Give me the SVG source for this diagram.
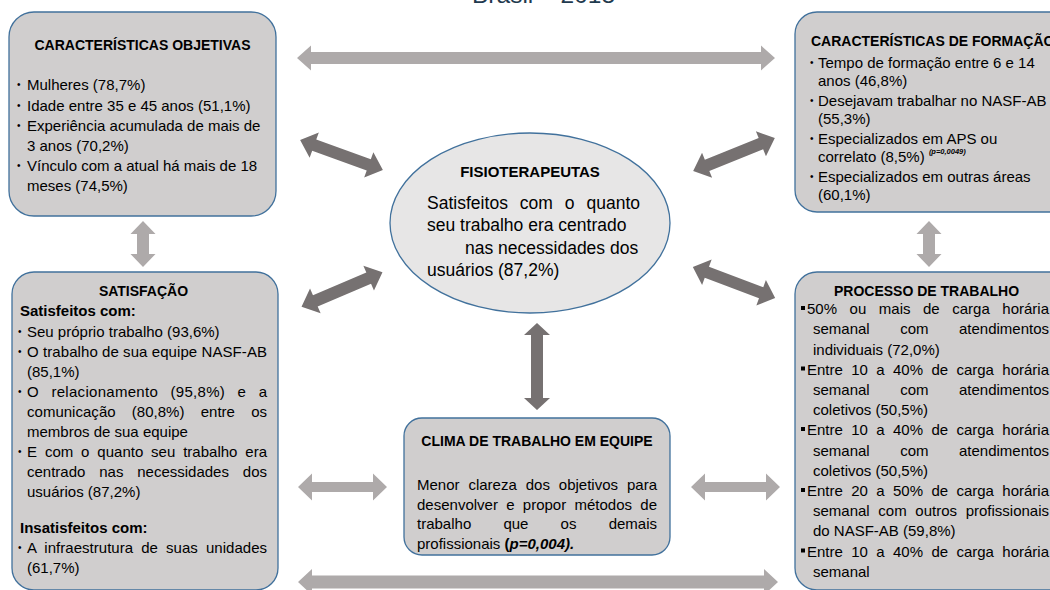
<svg xmlns="http://www.w3.org/2000/svg" xmlns:xlink="http://www.w3.org/1999/xlink" width="1050" height="590" viewBox="0 0 1050 590">
<style>
text{font-family:"Liberation Sans",Arial,sans-serif;fill:#000}
.box{fill:#d0cece;stroke:#41719c;stroke-width:1.3}
.ell{fill:#e7e6e6;stroke:#41719c;stroke-width:1.3}
.h{font-size:14px;font-weight:bold}
.hs{font-size:15px;font-weight:bold}
.t{font-size:15px}
.e{font-size:17.5px}
.bu{font-size:10px}
.dark{fill:#767171}
.light{fill:#aeaaaa}
.sq{fill:#000}
</style>
<defs>
<polygon id="dbl" points="-44,0 -29,-13.5 -29,-6 29,-6 29,-13.5 44,0 29,13.5 29,6 -29,6 -29,13.5"/>
</defs>
<rect width="1050" height="590" fill="#fff"/>
<text x="472" y="2.5" style="font-size:24.5px;fill:#1f3a4f">Brasil – 2018</text>

<g id="connectors">
<polygon class="light" points="297,58 311,45.5 311,52 761,52 761,45.5 775,58 761,70.5 761,64 311,64 311,70.5"/>
<polygon class="light" points="298,582 312,569 312,575.5 764,575.5 764,569 778,582 764,595 764,588.5 312,588.5 312,595"/>
<polygon class="light" points="298,487 312,473.5 312,482 373,482 373,473.5 387,487 373,500.5 373,492 312,492 312,500.5"/>
<polygon class="light" points="691,487 705,473.5 705,482 766,482 766,473.5 780,487 766,500.5 766,492 705,492 705,500.5"/>
<polygon class="light" points="143,221 130.5,234 137,234 137,254 130.5,254 143,267 155.5,254 149,254 149,234 155.5,234"/>
<polygon class="light" points="929,221 916.5,234 923,234 923,254 916.5,254 929,267 941.5,254 935,254 935,234 941.5,234"/>
<polygon class="dark" points="537,323 550,335 543,335 543,398 550,398 537,410 524,398 531,398 531,335 524,335"/>
<use xlink:href="#dbl" class="dark" transform="translate(341.5,155) rotate(19.9)"/>
<use xlink:href="#dbl" class="dark" transform="translate(342,289.5) rotate(-23.1)"/>
<use xlink:href="#dbl" class="dark" transform="translate(734,154.5) rotate(-21.9)"/>
<use xlink:href="#dbl" class="dark" transform="translate(734,282.5) rotate(20.7)"/>
</g>

<g id="caracteristicas-objetivas">
<rect class="box" x="9" y="12" width="267" height="204" rx="25"/>
<text class="h" x="142.5" y="50" text-anchor="middle">CARACTERÍSTICAS OBJETIVAS</text>
<text class="bu" x="17" y="88">•</text><text class="t" x="27" y="90">Mulheres (78,7%)</text>
<text class="bu" x="17" y="108.5">•</text><text class="t" x="27" y="110.5">Idade entre 35 e 45 anos (51,1%)</text>
<text class="bu" x="17" y="129">•</text><text class="t" x="27" y="131">Experiência acumulada de mais de</text>
<text class="t" x="27" y="151">3 anos (70,2%)</text>
<text class="bu" x="17" y="169">•</text><text class="t" x="27" y="171">Vínculo com a atual há mais de 18</text>
<text class="t" x="27" y="191">meses (74,5%)</text>
</g>

<g id="caracteristicas-formacao">
<rect class="box" x="795" y="12" width="300" height="200" rx="22"/>
<text class="h" x="811" y="46">CARACTERÍSTICAS DE FORMAÇÃO</text>
<text class="bu" x="810" y="66">•</text><text class="t" x="818" y="68">Tempo de formação entre 6 e 14</text>
<text class="t" x="818" y="85.5">anos (46,8%)</text>
<text class="bu" x="810" y="104">•</text><text class="t" x="818" y="106">Desejavam trabalhar no NASF-AB</text>
<text class="t" x="818" y="123.5">(55,3%)</text>
<text class="bu" x="810" y="142">•</text><text class="t" x="818" y="144">Especializados em APS ou</text>
<text class="t" x="818" y="161.5">correlato (8,5%) <tspan dy="-7.5" style="font-size:7.5px;font-weight:bold;font-style:italic">(p=0,0049)</tspan></text>
<text class="bu" x="810" y="180">•</text><text class="t" x="818" y="182">Especializados em outras áreas</text>
<text class="t" x="818" y="199.5">(60,1%)</text>
</g>

<g id="fisioterapeutas">
<ellipse class="ell" cx="530" cy="223" rx="140" ry="90"/>
<text class="hs" x="530" y="177" text-anchor="middle">FISIOTERAPEUTAS</text>
<text class="e" x="427" y="209" style="word-spacing:7px" textLength="213" lengthAdjust="spacing">Satisfeitos com o quanto</text>
<text class="e" x="427" y="231">seu trabalho era centrado</text>
<text class="e" x="465" y="253.5">nas necessidades dos</text>
<text class="e" x="427" y="276">usuários (87,2%)</text>
</g>

<g id="satisfacao">
<rect class="box" x="12" y="272" width="266" height="318" rx="22"/>
<text class="h" x="143.5" y="296" text-anchor="middle">SATISFAÇÃO</text>
<text class="hs" x="20" y="316">Satisfeitos com:</text>
<text class="bu" x="18" y="335">•</text><text class="t" x="27" y="337">Seu próprio trabalho (93,6%)</text>
<text class="bu" x="18" y="355">•</text><text class="t" x="27" y="357" textLength="240" lengthAdjust="spacing">O trabalho de sua equipe NASF-AB</text>
<text class="t" x="27" y="377">(85,1%)</text>
<text class="bu" x="18" y="395">•</text><text class="t" x="27" y="397" style="word-spacing:8px" textLength="240" lengthAdjust="spacing">O relacionamento (95,8%) e a</text>
<text class="t" x="27" y="417" style="word-spacing:12px" textLength="240" lengthAdjust="spacing">comunicação (80,8%) entre os</text>
<text class="t" x="27" y="437">membros de sua equipe</text>
<text class="bu" x="18" y="455">•</text><text class="t" x="27" y="457" style="word-spacing:3.7px" textLength="240" lengthAdjust="spacing">E com o quanto seu trabalho era</text>
<text class="t" x="27" y="477" style="word-spacing:9.7px" textLength="240" lengthAdjust="spacing">centrado nas necessidades dos</text>
<text class="t" x="27" y="497">usuários (87,2%)</text>
<text class="hs" x="20" y="533">Insatisfeitos com:</text>
<text class="bu" x="18" y="551">•</text><text class="t" x="27" y="553" style="word-spacing:3.9px" textLength="240" lengthAdjust="spacing">A infraestrutura de suas unidades</text>
<text class="t" x="27" y="573">(61,7%)</text>
</g>

<g id="processo-trabalho">
<rect class="box" x="795" y="272" width="300" height="318" rx="22"/>
<text class="h" x="926.5" y="296" text-anchor="middle">PROCESSO DE TRABALHO</text>
<rect class="sq" x="801" y="306" width="4" height="4"/>
<text class="t" x="807" y="314" style="word-spacing:8.4px" textLength="242" lengthAdjust="spacing">50% ou mais de carga horária</text>
<text class="t" x="813" y="334" style="word-spacing:26.3px" textLength="236" lengthAdjust="spacing">semanal com atendimentos</text>
<text class="t" x="813" y="354.5">individuais (72,0%)</text>
<rect class="sq" x="801" y="366.5" width="4" height="4"/>
<text class="t" x="807" y="374.5" style="word-spacing:4.2px" textLength="242" lengthAdjust="spacing">Entre 10 a 40% de carga horária</text>
<text class="t" x="813" y="395" style="word-spacing:26.3px" textLength="236" lengthAdjust="spacing">semanal com atendimentos</text>
<text class="t" x="813" y="415">coletivos (50,5%)</text>
<rect class="sq" x="801" y="427" width="4" height="4"/>
<text class="t" x="807" y="435" style="word-spacing:4.2px" textLength="242" lengthAdjust="spacing">Entre 10 a 40% de carga horária</text>
<text class="t" x="813" y="455.5" style="word-spacing:26.3px" textLength="236" lengthAdjust="spacing">semanal com atendimentos</text>
<text class="t" x="813" y="475.5">coletivos (50,5%)</text>
<rect class="sq" x="801" y="488" width="4" height="4"/>
<text class="t" x="807" y="496" style="word-spacing:4.2px" textLength="242" lengthAdjust="spacing">Entre 20 a 50% de carga horária</text>
<text class="t" x="813" y="516" style="word-spacing:4.5px" textLength="236" lengthAdjust="spacing">semanal com outros profissionais</text>
<text class="t" x="813" y="536">do NASF-AB (59,8%)</text>
<rect class="sq" x="801" y="548.5" width="4" height="4"/>
<text class="t" x="807" y="556.5" style="word-spacing:4.2px" textLength="242" lengthAdjust="spacing">Entre 10 a 40% de carga horária</text>
<text class="t" x="813" y="576.5">semanal</text>
</g>

<g id="clima-trabalho">
<rect class="box" x="404" y="418" width="266" height="137" rx="18"/>
<text class="h" x="537" y="446" text-anchor="middle">CLIMA DE TRABALHO EM EQUIPE</text>
<text class="t" x="417" y="490" style="word-spacing:4.8px" textLength="240" lengthAdjust="spacing">Menor clareza dos objetivos para</text>
<text class="t" x="417" y="509.5" style="word-spacing:4.1px" textLength="240" lengthAdjust="spacing">desenvolver e propor métodos de</text>
<text class="t" x="417" y="529" style="word-spacing:28px" textLength="240" lengthAdjust="spacing">trabalho que os demais</text>
<text class="t" x="417" y="548.5">profissionais <tspan style="font-weight:bold">(</tspan><tspan style="font-weight:bold;font-style:italic">p=0,004).</tspan></text>
</g>
</svg>
